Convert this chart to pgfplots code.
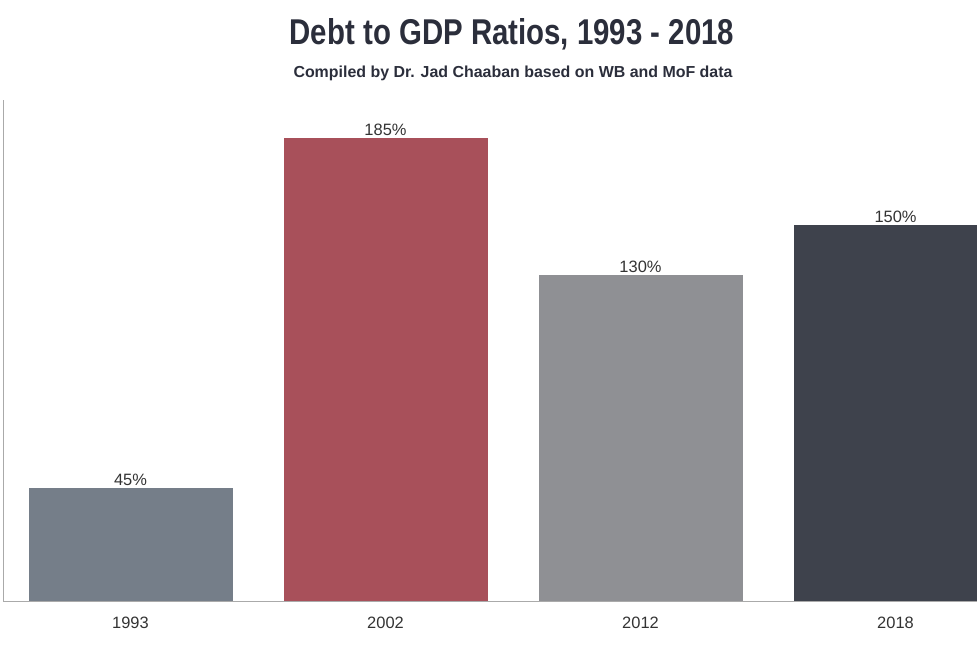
\documentclass[border=0pt]{standalone}
\usepackage{fontspec}
\setmainfont{Liberation Sans}
\newfontfamily\titlefont[FakeStretch=0.82]{Liberation Sans}
\usepackage{pgfplots}
\pgfplotsset{compat=1.18}
\definecolor{cA}{HTML}{757E89}
\definecolor{cB}{HTML}{A8505A}
\definecolor{cC}{HTML}{8F9094}
\definecolor{cD}{HTML}{3E424C}
\definecolor{ttl}{HTML}{2B2E3B}
\definecolor{lbl}{HTML}{333333}
\definecolor{axc}{HTML}{AAAAAA}
\begin{document}
\begin{tikzpicture}[x=1bp,y=1bp]
\path[use as bounding box] (0,0) rectangle (977,651);
\node[font=\titlefont\bfseries\fontsize{36}{40}\selectfont, text=ttl] at (512,617) {Debt to GDP Ratios, 1993 - 2018};
\node[font=\bfseries\fontsize{16}{19}\selectfont, text=ttl] at (513,578) {Compiled by Dr. Jad Chaaban based on WB and MoF data};
\begin{axis}[
  at={(3bp,50bp)}, anchor=south west,
  scale only axis, width=974bp, height=501bp,
  xmin=-0.5, xmax=3.3196, ymin=0, ymax=200,
  axis lines=left, axis line style={-, draw=axc, line width=0.8pt},
  ytick=\empty,
  xtick={0,1,2,3}, xticklabels={1993,2002,2012,2018},
  major tick length=0pt,
  xticklabel style={font=\fontsize{16.5}{19}\selectfont, text=lbl, inner sep=0pt, yshift=-16bp},
  ybar, bar width=0.8, bar shift=0pt,
  nodes near coords={\pgfmathprintnumber[assume math mode=true]{\pgfplotspointmeta}\%},
  nodes near coords style={font=\fontsize{16.5}{19}\selectfont, text=lbl, inner sep=2bp, anchor=south},
]
\addplot[fill=cA, draw=none] coordinates {(0,45)};
\addplot[fill=cB, draw=none] coordinates {(1,185)};
\addplot[fill=cC, draw=none] coordinates {(2,130)};
\addplot[fill=cD, draw=none] coordinates {(3,150)};
\end{axis}
\end{tikzpicture}
\end{document}
